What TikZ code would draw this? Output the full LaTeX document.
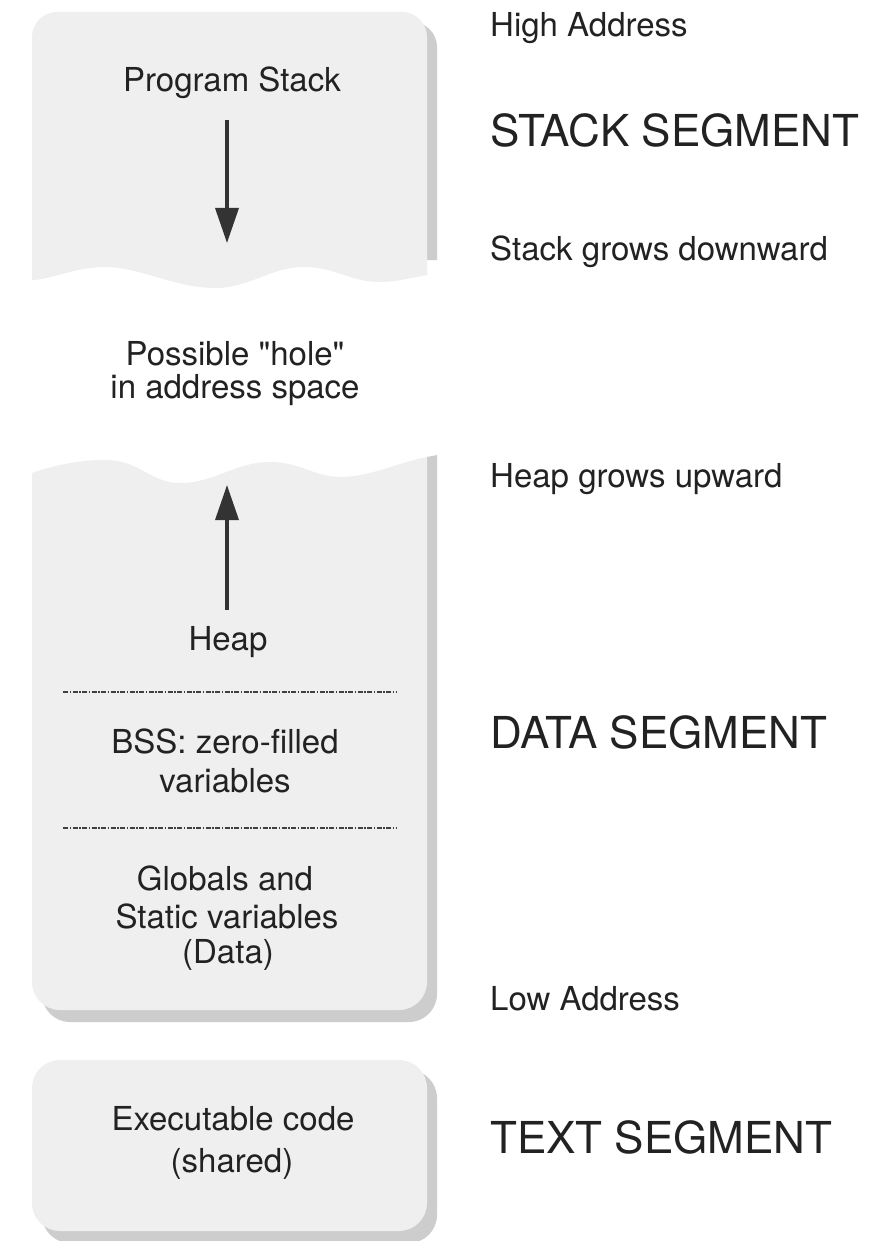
\documentclass[tikz,border=0pt]{standalone}
\usepackage{fontspec}
\setmainfont{TeX Gyre Heros}
\usetikzlibrary{arrows.meta}
\definecolor{segfillc}{HTML}{EFEFEF}
\definecolor{segshadowc}{HTML}{CDCDCD}
\definecolor{inkc}{HTML}{222222}
\begin{document}
\begin{tikzpicture}[x=1pt,y=-1pt,
  segfill/.style={fill=segfillc},
  segshadow/.style={fill=segshadowc},
  inlbl/.style={font=\fontsize{33}{33}\selectfont, text=inkc, anchor=base, inner sep=0pt},
  sidelbl/.style={font=\fontsize{33}{33}\selectfont, text=inkc, anchor=base west, inner sep=0pt},
  seglbl/.style={font=\fontsize{44}{44}\selectfont, text=inkc, anchor=base west, inner sep=0pt},
  growarrow/.style={draw=black!80, line width=3.5pt, -{Triangle[width=23pt,length=35pt]}},
  divider/.style={draw=black!75, line width=1.5pt, dash pattern=on 5pt off 1.5pt on 1.5pt off 1.5pt}]
\useasboundingbox (0,0) rectangle (883,1241);
\fill[white] (0,0) rectangle (883,1241);

% ---- stack segment block (torn bottom edge)
\fill[segshadow] (42,200) [rounded corners=25] -- (42,22) -- (437,22) -- (437,200)
  [sharp corners] -- (437,260) -- (42,260) -- cycle;
\fill[segfill] (32,200) [rounded corners=25] -- (32,12) -- (427,12) -- (427,200)
  [sharp corners] -- (427,275)
  .. controls (405,279) and (395,282) .. (380,282)
  .. controls (350,282) and (335,267) .. (305,267)
  .. controls (270,267) and (250,288) .. (215,288)
  .. controls (175,288) and (140,267) .. (105,267)
  .. controls (75,267) and (50,280) .. (32,280) -- cycle;

% ---- data segment block (torn top edge)
\fill[segshadow] (42,900) [rounded corners=28] -- (42,1022) -- (437,1022) -- (437,900)
  [sharp corners] -- (437,455) -- (427,457) -- (42,700) -- cycle;
\fill[segfill] (32,900) [rounded corners=28] -- (32,1010) -- (427,1010) -- (427,900)
  [sharp corners] -- (427,457)
  .. controls (400,462) and (370,477) .. (340,477)
  .. controls (315,477) and (300,462) .. (270,462)
  .. controls (235,462) and (215,483) .. (180,483)
  .. controls (150,483) and (140,460) .. (105,460)
  .. controls (80,460) and (55,465) .. (32,473) -- cycle;

% ---- text segment block
\fill[segshadow, rounded corners=28] (42,1070) rectangle (437,1243);
\fill[segfill, rounded corners=28] (32,1060) rectangle (427,1231);

% ---- growth arrows
\coordinate (stackTail) at (227,120);
\coordinate (stackTip) at (227,243);
\draw[growarrow] (stackTail) -- (stackTip);
\coordinate (heapTail) at (227,610);
\coordinate (heapTip) at (227,485);
\draw[growarrow] (heapTail) -- (heapTip);

% ---- dividers inside the data segment
\coordinate (divAL) at (63,692);
\coordinate (divAR) at (397,692);
\coordinate (divBL) at (63,828);
\coordinate (divBR) at (397,828);
\draw[divider] (divAL) -- (divAR);
\draw[divider] (divBL) -- (divBR);

% ---- texts inside the blocks
\node[inlbl] (progstack) at (232,92) {Program Stack};
\node[inlbl] (hole1) at (235,365) {Possible \textquotedbl hole\textquotedbl};
\node[inlbl] (hole2) at (235,398) {in address space};
\node[inlbl] (heap) at (228,650) {Heap};
\node[inlbl] (bss1) at (225,753) {BSS: zero-filled};
\node[inlbl] (bss2) at (225,792) {variables};
\node[inlbl] (glob1) at (225,890) {Globals and};
\node[inlbl] (glob2) at (227,928) {Static variables};
\node[inlbl] (glob3) at (228,963) {(Data)};
\node[inlbl] (exec1) at (233,1130) {Executable code};
\node[inlbl] (exec2) at (232,1172) {(shared)};

% ---- labels on the right
\node[sidelbl] (highaddr) at (490,37) {High Address};
\node[seglbl] (stackseg) at (490,147) {STACK SEGMENT};
\node[sidelbl] (stackgrow) at (490,260) {Stack grows downward};
\node[sidelbl] (heapgrow) at (490,487) {Heap grows upward};
\node[seglbl] (dataseg) at (490,748) {DATA SEGMENT};
\node[sidelbl] (lowaddr) at (490,1010) {Low Address};
\node[seglbl] (textseg) at (490,1153) {TEXT SEGMENT};
\end{tikzpicture}
\end{document}
